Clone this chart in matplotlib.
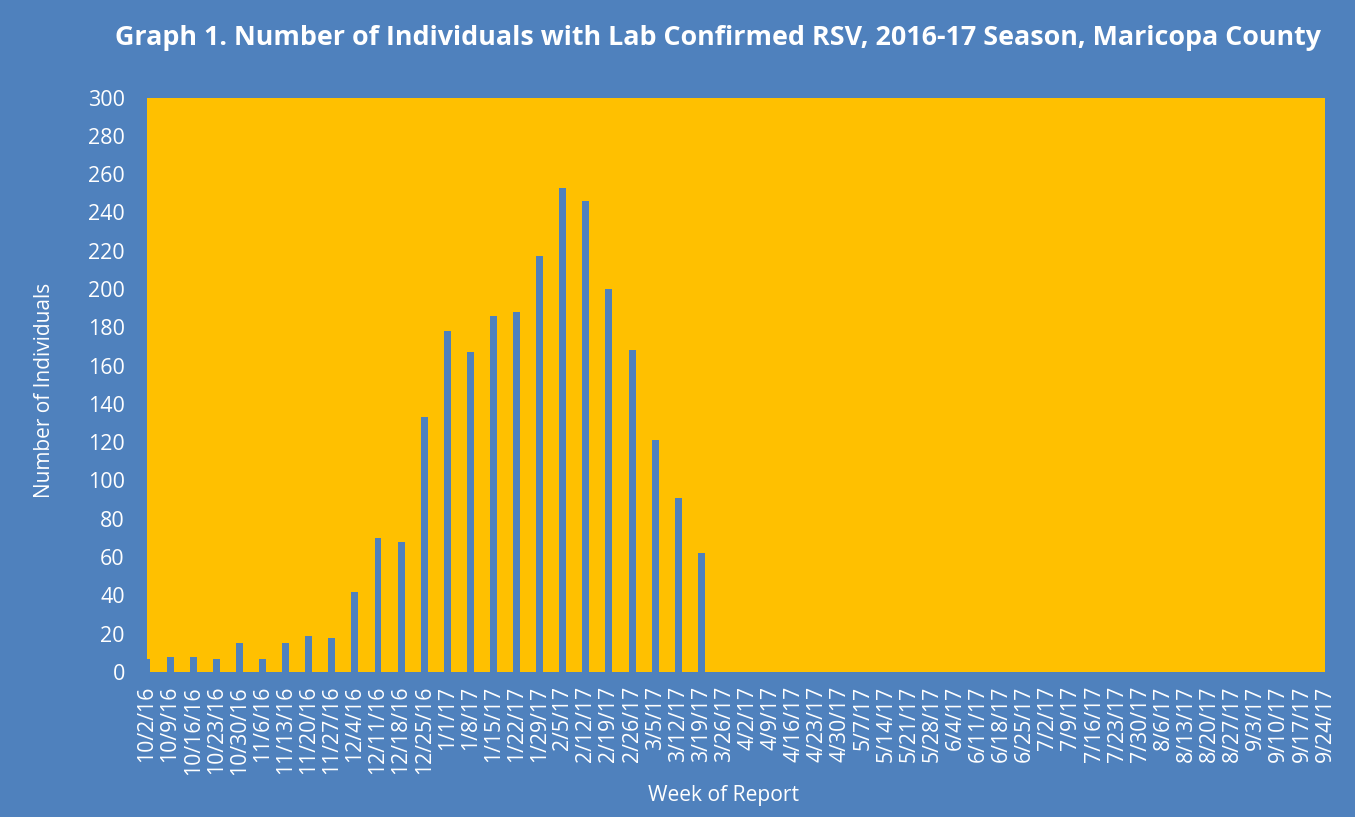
import matplotlib
matplotlib.use("Agg")
import matplotlib.pyplot as plt
import numpy as np

weeks = ["10/2/16", "10/9/16", "10/16/16", "10/23/16", "10/30/16", "11/6/16", "11/13/16",
         "11/20/16", "11/27/16", "12/4/16", "12/11/16", "12/18/16", "12/25/16", "1/1/17",
         "1/8/17", "1/15/17", "1/22/17", "1/29/17", "2/5/17", "2/12/17", "2/19/17", "2/26/17",
         "3/5/17", "3/12/17", "3/19/17", "3/26/17", "4/2/17", "4/9/17", "4/16/17", "4/23/17",
         "4/30/17", "5/7/17", "5/14/17", "5/21/17", "5/28/17", "6/4/17", "6/11/17", "6/18/17",
         "6/25/17", "7/2/17", "7/9/17", "7/16/17", "7/23/17", "7/30/17", "8/6/17", "8/13/17",
         "8/20/17", "8/27/17", "9/3/17", "9/10/17", "9/17/17", "9/24/17"]
reported = [7, 8, 8, 7, 15, 7, 15, 19, 18, 42, 70, 68, 133, 178, 167, 186, 188, 217, 253,
            246, 200, 168, 121, 91, 62]
counts = reported + [0] * (len(weeks) - len(reported))
yticks = list(range(0, 301, 20))

BG = "#4F81BD"
PLOT = "#FFC000"
FONT = ["Open Sans", "DejaVu Sans"]
plt.rcParams["font.family"] = FONT

W, H = 1355, 817
fig = plt.figure(figsize=(W / 100, H / 100), dpi=100, facecolor=BG)
ax = fig.add_axes([147 / W, 1 - 672 / H, (1325 - 147) / W, (672 - 97.5) / H])
ax.set_facecolor(PLOT)

x = np.arange(len(weeks))
ax.bar(x, counts, width=0.3, color=BG, edgecolor="none", zorder=2)

ax.set_xlim(0, len(weeks) - 1)
ax.set_ylim(0, 300)
ax.set_yticks(yticks)
ax.set_xticks(x)
ax.set_xticklabels(weeks, rotation=90, ha="center", va="top")
ax.tick_params(axis="x", length=0, pad=10, labelsize=15.3, colors="white")
ax.tick_params(axis="y", length=0, pad=16, labelsize=15.5, colors="white")
for s in ax.spines.values():
    s.set_visible(False)

fig.text(45 / W, 1 - 390 / H, "Number of Individuals", rotation=90, color="white",
         fontsize=15, ha="center", va="center")
fig.text(723 / W, 1 - 795 / H, "Week of Report", color="white",
         fontsize=15.2, ha="center", va="center")
fig.text(718 / W, 1 - 38 / H,
         "Graph 1. Number of Individuals with Lab Confirmed RSV, 2016-17 Season, Maricopa County",
         color="white", fontsize=19.4, fontweight="bold", ha="center", va="center")

fig.savefig("out.png", dpi=100, facecolor=BG)
